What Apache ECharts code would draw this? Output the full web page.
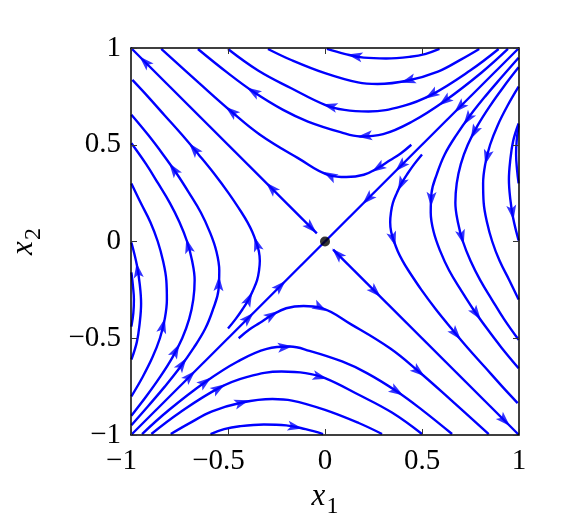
<!DOCTYPE html>
<html><head><meta charset="utf-8">
<script src="https://cdn.jsdelivr.net/npm/echarts/dist/echarts.min.js"></script>
<style>html,body{margin:0;padding:0;background:#fff}#c{width:575px;height:529px}</style>
</head><body><div id="c"></div>
<script>
// ---- tick values ----
const xTicks = [-1, -0.5, 0, 0.5, 1];
const yTicks = [-1, -0.5, 0, 0.5, 1];

// ---- streamlines (points listed in the direction of the flow) ----
// top region
const T1 = [[0.59,0.995],[0.52,0.97],[0.44,0.955],[0.315,0.946],[0.2,0.95],[0.1,0.97],[0.01,0.995]];
const T2 = [[0.795,0.995],[0.70,0.94],[0.582,0.878],[0.428,0.832],[0.271,0.814],[0.17,0.822],[0.0,0.870],[-0.174,0.938],[-0.294,0.995]];
const T3 = [[0.895,0.995],[0.75,0.885],[0.548,0.758],[0.4,0.7],[0.224,0.672],[0.1,0.68],[0.0,0.706],[-0.174,0.792],[-0.345,0.884],[-0.5,0.995]];
const T4 = [[0.943,0.995],[0.806,0.872],[0.617,0.726],[0.45,0.62],[0.3,0.555],[0.181,0.543],[0.08,0.565],[-0.088,0.62],[-0.216,0.68],[-0.371,0.775],[-0.5,0.87],[-0.655,0.995]];
const T5 = [[0.445,0.5],[0.39,0.455],[0.335,0.42],[0.273,0.38],[0.2,0.345],[0.11,0.333],[0.024,0.342],[-0.139,0.431],[-0.335,0.552],[-0.483,0.672],[-0.65,0.82],[-0.844,0.995]];
// bottom region
const B1 = [[-0.59,-0.995],[-0.52,-0.97],[-0.44,-0.955],[-0.315,-0.946],[-0.2,-0.95],[-0.1,-0.97],[-0.01,-0.995]];
const B2 = [[-0.795,-0.995],[-0.70,-0.94],[-0.582,-0.878],[-0.428,-0.832],[-0.271,-0.814],[-0.17,-0.822],[0.0,-0.870],[0.174,-0.938],[0.294,-0.995]];
const B3 = [[-0.895,-0.995],[-0.75,-0.885],[-0.548,-0.758],[-0.4,-0.7],[-0.224,-0.672],[-0.1,-0.68],[0.0,-0.706],[0.174,-0.792],[0.345,-0.884],[0.5,-0.995]];
const B4 = [[-0.943,-0.995],[-0.806,-0.872],[-0.617,-0.726],[-0.45,-0.62],[-0.3,-0.555],[-0.181,-0.543],[-0.08,-0.565],[0.088,-0.62],[0.216,-0.68],[0.371,-0.775],[0.5,-0.87],[0.655,-0.995]];
const B5 = [[-0.445,-0.5],[-0.39,-0.455],[-0.335,-0.42],[-0.273,-0.38],[-0.2,-0.345],[-0.11,-0.333],[-0.024,-0.342],[0.139,-0.431],[0.335,-0.552],[0.483,-0.672],[0.65,-0.82],[0.844,-0.995]];
// left region
const L0 = [[-0.998,-0.44],[-0.988,-0.37],[-0.985,-0.30],[-0.99,-0.23],[-0.998,-0.16]];
const L1 = [[-0.998,-0.61],[-0.97,-0.52],[-0.955,-0.42],[-0.948,-0.32],[-0.955,-0.22],[-0.97,-0.12],[-0.998,-0.005]];
const L2 = [[-0.998,-0.80],[-0.94,-0.7],[-0.89,-0.6],[-0.851,-0.5],[-0.826,-0.4],[-0.815,-0.3],[-0.818,-0.2],[-0.835,-0.1],[-0.862,0],[-0.9,0.1],[-0.95,0.2],[-0.998,0.3]];
const L3 = [[-0.998,-0.9],[-0.921,-0.8],[-0.85,-0.7],[-0.787,-0.6],[-0.736,-0.5],[-0.70,-0.4],[-0.679,-0.3],[-0.672,-0.2],[-0.685,-0.1],[-0.711,0],[-0.75,0.1],[-0.8,0.2],[-0.86,0.3],[-0.922,0.4],[-0.998,0.508]];
const L4 = [[-0.998,-0.95],[-0.911,-0.85],[-0.826,-0.75],[-0.747,-0.65],[-0.677,-0.55],[-0.617,-0.45],[-0.577,-0.35],[-0.549,-0.25],[-0.545,-0.15],[-0.56,-0.05],[-0.594,0.05],[-0.64,0.15],[-0.70,0.25],[-0.764,0.35],[-0.835,0.45],[-0.911,0.55],[-0.998,0.655]];
const L5 = [[-0.5,-0.45],[-0.46,-0.4],[-0.425,-0.35],[-0.394,-0.3],[-0.37,-0.25],[-0.35,-0.2],[-0.34,-0.15],[-0.336,-0.1],[-0.341,-0.05],[-0.356,0],[-0.375,0.05],[-0.40,0.1],[-0.43,0.15],[-0.497,0.25],[-0.571,0.35],[-0.652,0.45],[-0.736,0.55],[-0.825,0.65],[-0.914,0.75],[-0.993,0.835]];
// right region
const R0 = [[0.998,0.60],[0.988,0.52],[0.985,0.45],[0.99,0.37],[0.998,0.30]];
const R1 = [[0.5,0.45],[0.46,0.4],[0.425,0.35],[0.394,0.3],[0.37,0.25],[0.35,0.2],[0.34,0.15],[0.336,0.1],[0.341,0.05],[0.356,0],[0.375,-0.05],[0.40,-0.1],[0.43,-0.15],[0.497,-0.25],[0.571,-0.35],[0.652,-0.45],[0.736,-0.55],[0.825,-0.65],[0.914,-0.75],[0.993,-0.835]];
const R2 = [[0.998,0.95],[0.911,0.85],[0.826,0.75],[0.747,0.65],[0.677,0.55],[0.617,0.45],[0.577,0.35],[0.549,0.25],[0.545,0.15],[0.56,0.05],[0.594,-0.05],[0.64,-0.15],[0.70,-0.25],[0.764,-0.35],[0.835,-0.45],[0.911,-0.55],[0.998,-0.655]];
const R3 = [[0.998,0.9],[0.921,0.8],[0.85,0.7],[0.787,0.6],[0.736,0.5],[0.70,0.4],[0.679,0.3],[0.672,0.2],[0.685,0.1],[0.711,0],[0.75,-0.1],[0.8,-0.2],[0.86,-0.3],[0.922,-0.4],[0.998,-0.508]];
const R4 = [[0.998,0.80],[0.94,0.7],[0.89,0.6],[0.851,0.5],[0.826,0.4],[0.815,0.3],[0.818,0.2],[0.835,0.1],[0.862,0],[0.9,-0.1],[0.95,-0.2],[0.998,-0.3]];
const R5 = [[0.998,0.61],[0.97,0.52],[0.955,0.42],[0.948,0.32],[0.955,0.22],[0.97,0.12],[0.998,0.005]];
// separatrices
const SA = [[-1,-1],[0,0]];
const SB = [[1,1],[0,0]];
const UA = [[-0.042,0.042],[-1,1]];
const UB = [[0.042,-0.042],[1,-1]];

const streamlines = {T1,T2,T3,T4,T5,B1,B2,B3,B4,B5,L0,L1,L2,L3,L4,L5,R0,R1,R2,R3,R4,R5,SA,SB,UA,UB};

// ---- arrow heads: [line, x, y, reversed] ----
const arrowMarks = [
  ['T1',0.153,0.955],['T2',0.428,0.832],['T3',0.548,0.758],['T3',0.024,0.697],
  ['T4',0.617,0.726],['T4',0.205,0.545],['T4',-0.371,0.775],
  ['T5',0.273,0.38],['T5',0.024,0.342],['T5',-0.483,0.672],
  ['B1',-0.153,-0.955],['B2',-0.428,-0.832],['B3',-0.548,-0.758],['B3',-0.024,-0.697],
  ['B4',-0.617,-0.726],['B4',-0.205,-0.545],['B4',0.371,-0.775],
  ['B5',-0.273,-0.38],['B5',-0.024,-0.342],['B5',0.483,-0.672],
  ['L1',-0.965,-0.149],['L2',-0.842,-0.433],['L3',-0.773,-0.562],['L3',-0.70,-0.02],
  ['L4',-0.739,-0.632],['L4',-0.545,-0.218],['L4',-0.784,0.371],
  ['L5',-0.395,-0.295],['L5',-0.352,-0.012],['L5',-0.68,0.474],
  ['R1',0.395,0.295],['R1',0.352,0.012],['R1',0.68,-0.474],
  ['R2',0.739,0.632],['R2',0.545,0.218],['R2',0.784,-0.371],
  ['R3',0.773,0.562],['R3',0.70,0.02],['R4',0.842,0.433],['R5',0.965,0.149],
  ['SA',-0.696,-0.696],['SA',-0.395,-0.395],['SA',-0.23,-0.23],
  ['SB',0.22,0.22],['SB',0.39,0.39],['SB',0.694,0.694],
  ['UA',-0.071,0.071,1],['UA',-0.277,0.277],['UA',-0.929,0.929],
  ['UB',0.064,-0.064,1],['UB',0.26,-0.26],['UB',0.926,-0.926]
];
const criticalPoint = [[0, 0]];

// ---- build ----
const serif = "'Liberation Serif','Times New Roman',Times,serif";
const blue = '#0000ff';

function nearest(pts, x, y) {
  let best = {d: Infinity};
  for (let i = 0; i < pts.length - 1; i++) {
    const ax = pts[i][0], ay = pts[i][1], bx = pts[i+1][0], by = pts[i+1][1];
    const vx = bx - ax, vy = by - ay, l2 = vx*vx + vy*vy;
    let t = ((x-ax)*vx + (y-ay)*vy) / l2; t = Math.max(0, Math.min(1, t));
    const px = ax + t*vx, py = ay + t*vy, d = (px-x)**2 + (py-y)**2;
    if (d < best.d) best = {d, px, py, vx, vy};
  }
  return best;
}
const arrowData = arrowMarks.map(a => {
  const n = nearest(streamlines[a[0]], a[1], a[2]);
  let ang = Math.atan2(n.vy, n.vx) * 180 / Math.PI - 90;
  if (a[3]) ang += 180;
  return {value: [n.px, n.py], symbolRotate: ang};
});

const fmt = v => (v < 0 ? '\u2212' : '') + Math.abs(v);

const series = Object.keys(streamlines).map(k => ({
  type: 'line', name: k, data: streamlines[k], smooth: 0.4, symbol: 'none', showSymbol: false,
  lineStyle: {color: blue, width: 2.4}, silent: true, clip: true, z: 2
}));
series.push({
  type: 'scatter', data: arrowData, symbol: 'path://M0,0 L7,18 L0,14 L-7,18 Z',
  symbolSize: [10, 15], itemStyle: {color: blue}, silent: true, z: 3
});
series.push({
  type: 'scatter', data: criticalPoint, symbolSize: 10, itemStyle: {color: '#000'}, silent: true, z: 4
});

const axisCommon = {
  type: 'value', min: xTicks[0], max: xTicks[xTicks.length-1], interval: xTicks[1]-xTicks[0],
  axisLine: {show: true, onZero: false, lineStyle: {color: '#000', width: 1.5}},
  axisTick: {show: true, inside: true, length: 6, lineStyle: {color: '#333', width: 1}},
  splitLine: {show: false}, z: 5
};
const nameRich = {
  i: {fontFamily: serif, fontStyle: 'italic', fontSize: 31, color: '#000', verticalAlign: 'top', lineHeight: 31},
  s: {fontFamily: serif, fontSize: 24, color: '#000', verticalAlign: 'top', lineHeight: 24, padding: [14, 0, 0, 1]}
};

const chart = echarts.init(document.getElementById('c'), null, {renderer: 'canvas'});
chart.setOption({
  animation: false,
  backgroundColor: '#fff',
  grid: {left: 131, top: 48, width: 388, height: 387, containLabel: false},
  xAxis: [
    Object.assign({}, axisCommon, {
      position: 'bottom',
      axisLabel: {margin: 12, fontSize: 29, fontFamily: serif, color: '#000',
        formatter: v => v < 0 ? '{n|' + fmt(v) + '}' : fmt(v),
        rich: {n: {fontSize: 29, fontFamily: serif, color: '#000', padding: [0, 19, 0, 0]}}},
      name: '{i|x}{s|1}', nameLocation: 'middle', nameGap: 46,
      nameTextStyle: {rich: nameRich}
    }),
    Object.assign({}, axisCommon, {position: 'top', axisLabel: {show: false}})
  ],
  yAxis: [
    Object.assign({}, axisCommon, {
      min: yTicks[0], max: yTicks[yTicks.length-1], interval: yTicks[1]-yTicks[0],
      position: 'left',
      axisLabel: {margin: 10, fontSize: 29, fontFamily: serif, color: '#000', formatter: fmt},
      name: '{i|x}{s|2}', nameLocation: 'middle', nameGap: 92, nameRotate: 90,
      nameTextStyle: {rich: nameRich}
    }),
    Object.assign({}, axisCommon, {
      min: yTicks[0], max: yTicks[yTicks.length-1], interval: yTicks[1]-yTicks[0],
      position: 'right', axisLabel: {show: false}})
  ],
  series: series
});
</script></body></html>
